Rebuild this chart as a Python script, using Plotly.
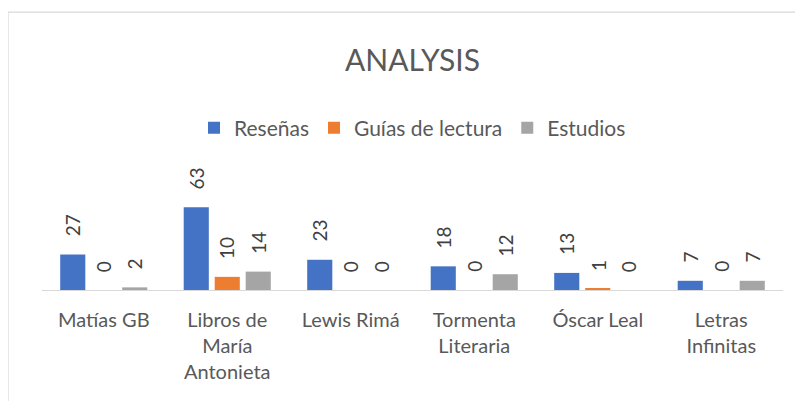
import plotly.graph_objects as go

categories = ["Matías GB", "Libros de<br>María<br>Antonieta", "Lewis Rimá",
              "Tormenta<br>Literaria", "Óscar Leal", "Letras<br>Infinitas"]
series_names = ["Reseñas", "Guías de lectura", "Estudios"]
resenas = [27, 63, 23, 18, 13, 7]
guias = [0, 10, 0, 0, 1, 0]
estudios = [2, 14, 0, 12, 0, 7]
colors = ["#4472C4", "#ED7D31", "#A5A5A5"]
title_text = "ANALYSIS"

FONT = "Lato"
values = [resenas, guias, estudios]

fig = go.Figure()
for name, vals, col in zip(series_names, values, colors):
    fig.add_trace(go.Bar(name=name, x=categories, y=vals, marker_color=col,
                         marker_line_width=0))

# data labels (rotated), placed above each bar
slot_px = 31
for i, vals in enumerate(values):
    for c, v in zip(categories, vals):
        fig.add_annotation(x=c, y=v, xref="x", yref="y", text=str(v),
                           textangle=-90, showarrow=False, xanchor="center",
                           yanchor="bottom", xshift=(i - 1) * slot_px, yshift=16,
                           font=dict(family=FONT, size=19, color="#404040"))

# chart area border
fig.add_shape(type="rect", xref="paper", yref="paper",
              x0=-0.0459, x1=1.2, y0=-1.5, y1=3.02,
              line=dict(color="#D9D9D9", width=1.3), fillcolor="rgba(0,0,0,0)",
              layer="below")

fig.update_layout(
    width=803, height=401,
    margin=dict(l=34, r=28, t=190, b=119),
    paper_bgcolor="white", plot_bgcolor="white",
    barmode="group", bargap=0.247, bargroupgap=0.19,
    title=dict(text=title_text, x=0.5, xanchor="center", xref="paper",
               y=1 - 52 / 401, yanchor="middle", yref="container",
               font=dict(family=FONT, size=30, color="#595959")),
    legend=dict(orientation="h", x=0.5, xanchor="center", xref="paper",
                y=1 - 120 / 401, yanchor="middle", yref="container",
                font=dict(family=FONT, size=21, color="#595959"),
                itemwidth=30, traceorder="normal"),
    showlegend=True,
    xaxis=dict(showline=True, linecolor="#D9D9D9", linewidth=1.3, ticks="",
               ticklabelstandoff=12,
               tickfont=dict(family=FONT, size=20, color="#595959"),
               showgrid=False, zeroline=False),
    yaxis=dict(visible=False, range=[0, 70], showgrid=False, zeroline=False),
)

fig.write_html("out.html")
